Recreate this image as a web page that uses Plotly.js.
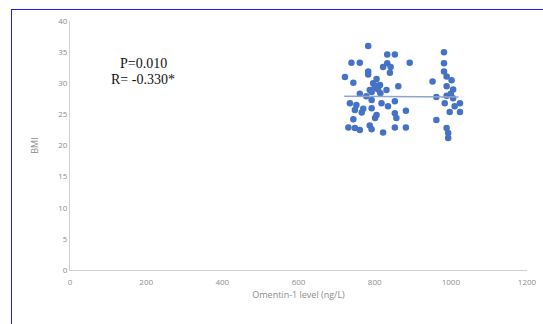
<!DOCTYPE html>
<html><head><meta charset="utf-8">
<script src="https://cdn.plot.ly/plotly-3.0.1.min.js"></script>
<style>
html,body{margin:0;padding:0;background:#fff;}
#wrap{position:relative;width:543px;height:324px;overflow:hidden;}
#chart{position:absolute;left:0;top:0;width:543px;height:324px;}
#frame{position:absolute;left:11px;top:9px;width:540px;height:320px;border-left:1.5px solid #1a1aff;border-top:1.5px solid #1a1aff;pointer-events:none;}
</style></head>
<body><div id="wrap"><div id="chart"></div><div id="frame"></div></div>
<script>
const omentin = [783,833,853,982,739,761,833,892,982,822,842,783,840,982,783,722,989,1002,744,805,796,814,952,862,787,809,831,989,1006,761,962,989,1006,735,752,792,818,835,853,984,1024,748,766,792,805,853,882,997,1024,744,801,857,962,731,748,761,787,792,822,853,882,989,993,993,800,792,805,778,815,1000,1010,770];
const bmi =     [36.0,34.6,34.6,35.0,33.3,33.3,33.2,33.3,33.2,32.6,32.6,31.9,31.7,31.9,31.4,31.0,31.1,30.5,30.1,30.7,30.0,29.7,30.3,29.5,28.9,29.0,28.9,29.5,29.0,28.3,27.8,28.0,27.6,26.8,26.5,27.3,26.8,26.3,27.1,26.8,26.8,25.7,25.3,26.0,24.9,25.2,25.6,25.4,25.4,24.2,24.4,24.4,24.1,22.9,22.8,22.5,23.2,22.6,22.1,22.9,22.9,22.8,22.0,21.2,29.3,28.6,29.6,27.9,28.4,28.3,26.3,25.9];
const trendX = [720, 1020];
const trendY = [27.9, 27.8];
const xTicks = [0,200,400,600,800,1000,1200];
const yTicks = [0,5,10,15,20,25,30,35,40];
const annText = ['P=0.010','R= -0.330*'];

const tickFont = {family:'Open Sans, sans-serif', size:8, color:'#8c8c8c'};
Plotly.newPlot('chart', [
  {x:omentin, y:bmi, type:'scatter', mode:'markers',
   marker:{color:'#4472C4', size:6.5, line:{width:0}}, showlegend:false, hoverinfo:'skip'},
  {x:trendX, y:trendY, type:'scatter', mode:'lines',
   line:{color:'#8fa6cc', width:1.5}, showlegend:false, hoverinfo:'skip'}
], {
  width:543, height:324,
  margin:{l:70, r:16, t:21, b:54},
  paper_bgcolor:'rgba(0,0,0,0)', plot_bgcolor:'rgba(0,0,0,0)',
  xaxis:{range:[0,1200], tickvals:xTicks, ticktext:xTicks.map(String), showgrid:false, zeroline:false,
         showline:true, linecolor:'#d0d0d0', linewidth:1, ticks:'', tickfont:tickFont, ticklabelstandoff:4,
         title:{text:'Omentin-1 level (ng/L)', font:{family:'Open Sans, sans-serif', size:9, color:'#8c8c8c'}, standoff:6}},
  yaxis:{range:[0,40], tickvals:yTicks, ticktext:yTicks.map(String), showgrid:false, zeroline:false,
         showline:true, linecolor:'#d0d0d0', linewidth:1, ticks:'', tickfont:tickFont,
         title:{text:'BMI', font:{family:'Open Sans, sans-serif', size:9, color:'#8c8c8c'}, standoff:18}},
  annotations:[
    {xref:'paper', yref:'paper', x:(143-70)/457, y:(270-63)/249, text:annText[0], showarrow:false,
     font:{family:'Liberation Serif, serif', size:14, color:'#111'}, xanchor:'center', yanchor:'middle'},
    {xref:'paper', yref:'paper', x:(143-70)/457, y:(270-80)/249, text:annText[1], showarrow:false,
     font:{family:'Liberation Serif, serif', size:14, color:'#111'}, xanchor:'center', yanchor:'middle'}
  ]
}, {staticPlot:true, displayModeBar:false});
</script></body></html>
